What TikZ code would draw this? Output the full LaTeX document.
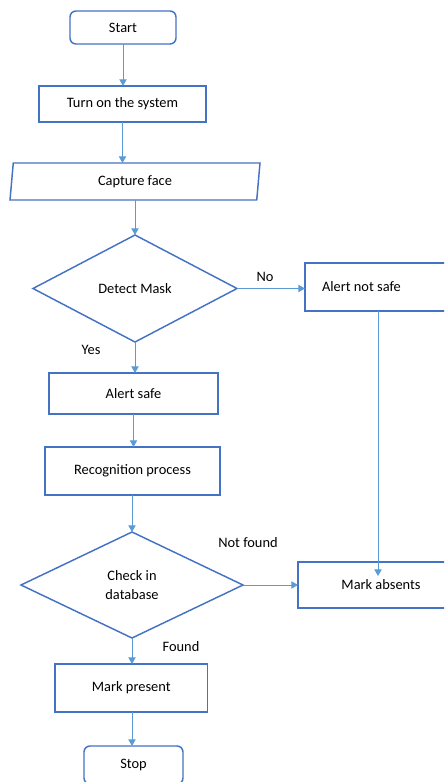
\documentclass[tikz,border=0pt]{standalone}
\usepackage{fontspec}
\setmainfont{Carlito}
\usetikzlibrary{shapes.geometric,arrows.meta}
\definecolor{boxblue}{RGB}{68,114,196}
\definecolor{lineblue}{RGB}{91,155,213}
\begin{document}
\begin{tikzpicture}[x=.75pt, y=-.75pt,
    every node/.style={font=\fontsize{10.8}{14}\selectfont},
    box/.style={draw=boxblue, line width=1.1pt, rectangle, inner sep=0pt, outer sep=0pt},
    term/.style={box, rounded corners=4.5pt},
    decision/.style={box, diamond, align=center},
    io/.style={box, trapezium, trapezium left angle=75, trapezium right angle=105, trapezium stretches body},
    arr/.style={draw=lineblue, line width=.75pt, -{Triangle[length=5pt,width=5.5pt]}}]
  \path[use as bounding box, clip] (0,0) rectangle (444,782);
  % left column
  \node[term, minimum width=79.5pt, minimum height=24.75pt] (start) at (123,27.5) {Start};
  \node[box, minimum width=125.25pt, minimum height=27pt] (turn) at (122.5,104) {Turn on the system};
  \node[io, minimum width=187.5pt, minimum height=27.75pt] (capture) at (135,181.5) {Capture face};
  \node[decision, minimum width=153pt, minimum height=80.25pt] (detect) at (135,288.5) {Detect Mask};
  \node[box, minimum width=126.75pt, minimum height=30.75pt] (safe) at (133.5,393.5) {Alert safe};
  \node[box, minimum width=131.25pt, minimum height=36pt] (recog) at (132.5,471) {Recognition process};
  \node[decision, minimum width=166.5pt, minimum height=79.5pt] (check) at (132,585) {Check in\\database};
  \node[box, minimum width=114.4pt, minimum height=36pt] (present) at (131.25,688) {Mark present};
  \node[term, minimum width=74.25pt, minimum height=28.5pt] (stop) at (133.5,765) {Stop};
  % right column
  \node[box, inner xsep=12.75pt, text width=90.75pt, align=flush left, minimum height=36pt] (notsafe) at (382.5,287) {Alert not safe};
  \node[box, minimum width=124.5pt, minimum height=34.5pt] (absent) at (381,585) {Mark absents};
  % labels
  \node (no) at (265,277) {No};
  \node (yes) at (91,350) {Yes};
  \node (notfound) at (248,543) {Not found};
  \node (found) at (181,647) {Found};
  % arrows
  \draw[arr] (start) -- (start |- turn.north);
  \draw[arr] (turn) -- (turn |- capture.north);
  \draw[arr] (detect |- capture.south) -- (detect.north);
  \draw[arr] (detect.east) -- (detect.east -| notsafe.west);
  \draw[arr] (detect.south) -- (detect |- safe.north);
  \draw[arr] (safe |- safe.south) -- (safe |- recog.north);
  \draw[arr] (recog.south -| check) -- (check.north);
  \draw[arr] (check.east) -- (check.east -| absent.west);
  \draw[arr] ([xshift=54.75pt]notsafe.south west) -- ([xshift=60pt, yshift=-10.5pt]absent.north west);
  \draw[arr] (check.south) -- (check |- present.north);
  \draw[arr] (present.south -| check) -- (check |- stop.north);
\end{tikzpicture}
\end{document}
